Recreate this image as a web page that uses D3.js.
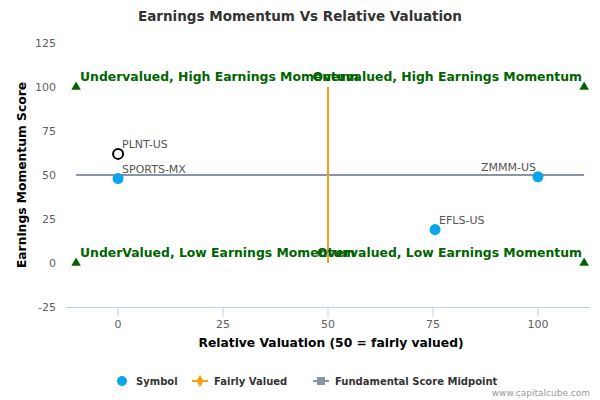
<!DOCTYPE html>
<html><head><meta charset="utf-8">
<script src="https://cdn.jsdelivr.net/npm/d3@7"></script>
<style>body{margin:0;background:#fff;font-family:"DejaVu Sans",sans-serif;}</style>
</head><body><div id="chart"></div>
<script>
const symbols = ['PLNT-US', 'SPORTS-MX', 'ZMMM-US', 'EFLS-US'];
const valuation = [0, 0, 100, 75.5];
const momentum = [62, 48, 49, 19];
const hollow = [true, false, false, false];
const cornerX = [-10, 111, -10, 111];
const cornerY = [100, 100, 0, 0];
const quadrantLabels = ['Undervalued, High Earnings Momentum', 'Overvalued, High Earnings Momentum',
  'UnderValued, Low Earnings Momentum', 'Overvalued, Low Earnings Momentum'];
const xTicks = [0, 25, 50, 75, 100];
const yTicks = [-25, 0, 25, 50, 75, 100, 125];

const width = 600, height = 400;
const svg = d3.select('#chart').append('svg').attr('width', width).attr('height', height);

const x = d3.scaleLinear().domain([-12.4, 112.4]).range([66, 590]);
const y = d3.scaleLinear().domain([-25, 125]).range([307, 43]);

svg.append('text').attr('x', 300).attr('y', 21).attr('text-anchor', 'middle')
  .style('font-size', '13.5px').style('font-weight', 'bold').style('fill', '#333')
  .text('Earnings Momentum Vs Relative Valuation');

// axes
svg.append('line').attr('x1', 66).attr('x2', 590).attr('y1', 307.5).attr('y2', 307.5).attr('stroke', '#c0d0e0');
xTicks.forEach(t => {
  svg.append('line').attr('x1', x(t)).attr('x2', x(t)).attr('y1', 307).attr('y2', 317).attr('stroke', '#c0d0e0');
  svg.append('text').attr('x', x(t)).attr('y', 328).attr('text-anchor', 'middle')
    .style('font-size', '11px').style('fill', '#606060').text(t);
});
yTicks.forEach(t => {
  svg.append('text').attr('x', 56).attr('y', y(t) + 4).attr('text-anchor', 'end')
    .style('font-size', '11px').style('fill', '#606060').text(t);
});
svg.append('text').attr('x', 331).attr('y', 347).attr('text-anchor', 'middle')
  .style('font-size', '12.3px').style('font-weight', 'bold').style('fill', '#000')
  .text('Relative Valuation (50 = fairly valued)');
svg.append('text').attr('transform', 'translate(26,' + y(50) + ') rotate(-90)').attr('text-anchor', 'middle')
  .style('font-size', '12.3px').style('font-weight', 'bold').style('fill', '#000')
  .text('Earnings Momentum Score');

// midpoint lines
svg.append('line').attr('x1', x(-10)).attr('x2', x(111)).attr('y1', y(50)).attr('y2', y(50))
  .attr('stroke', '#8a93a8').attr('stroke-width', 2);
svg.append('line').attr('x1', x(50)).attr('x2', x(50)).attr('y1', y(0)).attr('y2', y(100))
  .attr('stroke', '#f7a21b').attr('stroke-width', 2);

// corner triangles and labels
cornerX.forEach((cx, i) => {
  svg.append('path').attr('d', d3.symbol(d3.symbolTriangle, 40)())
    .attr('transform', 'translate(' + x(cx) + ',' + y(cornerY[i]) + ')').attr('fill', '#006400');
  const left = i % 2 === 0;
  svg.append('text').attr('x', left ? 80 : 582).attr('y', y(cornerY[i]) - 6)
    .attr('text-anchor', left ? 'start' : 'end')
    .style('font-size', '12.4px').style('font-weight', 'bold').style('fill', '#006400')
    .text(quadrantLabels[i]);
});

// points
symbols.forEach((s, i) => {
  svg.append('circle').attr('cx', x(valuation[i])).attr('cy', y(momentum[i])).attr('r', hollow[i] ? 5 : 5.5)
    .attr('fill', hollow[i] ? '#fff' : '#0ca4ec').attr('stroke', hollow[i] ? '#000' : 'none').attr('stroke-width', 2);
  const right = valuation[i] > 90;
  svg.append('text').attr('x', x(valuation[i]) + (right ? -2 : 4)).attr('y', y(momentum[i]) - 6)
    .attr('text-anchor', right ? 'end' : 'start')
    .style('font-size', '11px').style('fill', '#555').text(s);
});

// legend
const lg = svg.append('g').attr('transform', 'translate(0,381)');
lg.append('circle').attr('cx', 122).attr('cy', 0).attr('r', 5).attr('fill', '#0ca4ec');
lg.append('text').attr('x', 136).attr('y', 4).style('font-size', '10px').style('font-weight', 'bold').style('fill', '#333').text('Symbol');
lg.append('line').attr('x1', 192).attr('x2', 208).attr('y1', 0).attr('y2', 0).attr('stroke', '#f7a21b').attr('stroke-width', 2);
lg.append('path').attr('d', d3.symbol(d3.symbolDiamond, 45)()).attr('transform', 'translate(200,0)').attr('fill', '#f7a21b');
lg.append('text').attr('x', 214).attr('y', 4).style('font-size', '10px').style('font-weight', 'bold').style('fill', '#333').text('Fairly Valued');
lg.append('line').attr('x1', 313).attr('x2', 329).attr('y1', 0).attr('y2', 0).attr('stroke', '#8a93a8').attr('stroke-width', 2);
lg.append('rect').attr('x', 317).attr('y', -4).attr('width', 8).attr('height', 8).attr('fill', '#8a93a8');
lg.append('text').attr('x', 335).attr('y', 4).style('font-size', '10px').style('font-weight', 'bold').style('fill', '#333').text('Fundamental Score Midpoint');

svg.append('text').attr('x', 590).attr('y', 396).attr('text-anchor', 'end')
  .style('font-size', '9px').style('fill', '#999').text('www.capitalcube.com');
</script></body></html>
